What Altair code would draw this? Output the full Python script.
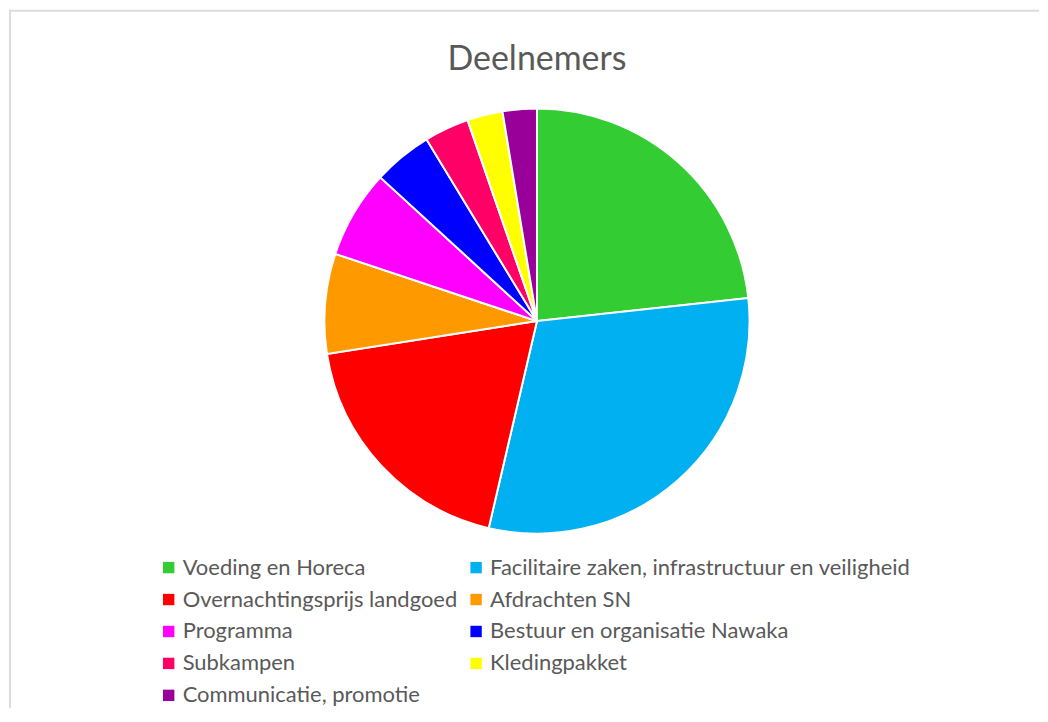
import altair as alt
import pandas as pd

title_text = "Deelnemers"
categories = [
    "Voeding en Horeca",
    "Facilitaire zaken, infrastructuur en veiligheid",
    "Overnachtingsprijs landgoed",
    "Afdrachten SN",
    "Programma",
    "Bestuur en organisatie Nawaka",
    "Subkampen",
    "Kledingpakket",
    "Communicatie, promotie",
]
values = [23.3, 30.4, 18.9, 7.6, 6.7, 4.5, 3.4, 2.7, 2.6]
colors = ["#33CC33", "#00B0F0", "#FF0000", "#FF9900", "#FF00FF",
          "#0000FF", "#FF0066", "#FFFF00", "#990099"]

df = pd.DataFrame({"cat": categories, "val": values, "idx": list(range(len(values)))})

# legend is filled column by column; reorder so it reads row by row like the original
legend_order = categories[0::2] + categories[1::2]
legend_colors = [colors[categories.index(c)] for c in legend_order]

FONT = "Lato"
W, H = 1032, 700

pie = alt.Chart(df).mark_arc(radius=213, stroke="white", strokeWidth=2).encode(
    theta=alt.Theta("val:Q", stack=True),
    order=alt.Order("idx:Q"),
    color=alt.Color(
        "cat:N",
        sort=legend_order,
        scale=alt.Scale(domain=legend_order, range=legend_colors),
        legend=alt.Legend(
            title=None,
            orient="none",
            legendX=149,
            legendY=548,
            columns=2,
            columnPadding=7,
            rowPadding=10,
            symbolType="square",
            symbolSize=130,
            symbolStrokeWidth=0,
            labelFont=FONT,
            labelFontSize=22,
            labelColor="#595959",
            labelOffset=3,
            labelLimit=600,
            padding=0,
        ),
    ),
    x=alt.value(529),
    y=alt.value(312),
)

title = alt.Chart(pd.DataFrame({"t": [title_text]})).mark_text(
    font=FONT, fontSize=34, color="#595959", baseline="alphabetic", align="center"
).encode(text="t:N", x=alt.value(529), y=alt.value(60))

frame_top = alt.Chart(pd.DataFrame({"a": [0]})).mark_rule(color="#dcdcdc", strokeWidth=2).encode(
    x=alt.value(0), x2=alt.value(W), y=alt.value(1)
)
frame_left = alt.Chart(pd.DataFrame({"a": [0]})).mark_rule(color="#dcdcdc", strokeWidth=2).encode(
    x=alt.value(1), y=alt.value(0), y2=alt.value(H)
)

chart = alt.layer(frame_top, frame_left, pie, title).properties(
    width=W, height=H, padding=0, background="white"
).configure_view(stroke=None)

chart.save("out.html", embed_options={"renderer": "svg", "actions": False})
